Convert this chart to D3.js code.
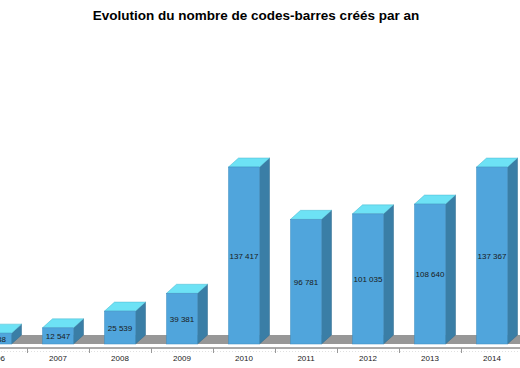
<html>
  <head>
    <script src="https://d3js.org/d3.v7.min.js"></script>
  </head>
  <style>
  body { margin: 0; background: #fff; }
  text { font-family: Arial, "Liberation Sans", sans-serif; }
  </style>
  <body>
    <svg id="chart" width="520" height="368"></svg>
    <script>
    // data
    const years = ["2006", "2007", "2008", "2009", "2010", "2011", "2012", "2013", "2014"];
    const values = [8438, 12547, 25539, 39381, 137417, 96781, 101035, 108640, 137367];
    const labels = ["8 438", "12 547", "25 539", "39 381", "137 417", "96 781", "101 035", "108 640", "137 367"];

    const svg = d3.select("#chart");
    const base = 344;
    const dx = 10, dy = 9; // 3d depth

    const x = d3.scaleBand().domain(years).range([-35, 523]).paddingInner(0.5).paddingOuter(0.25);
    const y = d3.scaleLinear().domain([0, 137417]).range([base, 167]);

    // title
    svg.append("text")
      .attr("x", 256).attr("y", 20)
      .attr("text-anchor", "middle")
      .attr("font-size", "13.5px").attr("font-weight", "bold")
      .text("Evolution du nombre de codes-barres créés par an");

    // floor
    const x0 = x.range()[0], x1 = x.range()[1];
    svg.append("polygon")
      .attr("points", [[x0, base], [x1, base], [x1 + dx, base - dy], [x0 + dx, base - dy]].join(" "))
      .attr("fill", "#979797");

    // axis
    const axisY = 348;
    svg.append("line").attr("x1", x0).attr("x2", x1).attr("y1", axisY).attr("y2", axisY)
      .attr("stroke", "#555").attr("stroke-width", 1);
    svg.append("line").attr("x1", x0).attr("x2", x1).attr("y1", axisY + 3.5).attr("y2", axisY + 3.5)
      .attr("stroke", "#ccc").attr("stroke-width", 0.6).attr("stroke-dasharray", "1,2");
    const step = x.step();
    d3.range(0, years.length + 1).forEach(function(i) {
      let tx = Math.round(x0 + i * step) + 0.5;
      svg.append("line").attr("x1", tx).attr("x2", tx).attr("y1", axisY).attr("y2", axisY + 5)
        .attr("stroke", "#999");
    });
    svg.selectAll("text.year").data(years).enter().append("text")
      .attr("class", "year")
      .attr("x", d => x(d) + x.bandwidth() / 2)
      .attr("y", 361)
      .attr("text-anchor", "middle")
      .attr("font-size", "8px").attr("fill", "#222")
      .text(d => d);

    // bars
    const bw = x.bandwidth();
    const g = svg.selectAll("g.bar").data(years).enter().append("g").attr("class", "bar");
    g.append("polygon")
      .attr("points", (d, i) => {
        let l = x(d), t = y(values[i]);
        return [[l + bw, base], [l + bw + dx, base - dy], [l + bw + dx, t - dy], [l + bw, t]].join(" ");
      })
      .attr("fill", "#3a7ea6").attr("stroke", "#2d6a8e").attr("stroke-width", 0.5);
    g.append("polygon")
      .attr("points", (d, i) => {
        let l = x(d), t = y(values[i]);
        return [[l, t], [l + bw, t], [l + bw + dx, t - dy], [l + dx, t - dy]].join(" ");
      })
      .attr("fill", "#6de2f5").attr("stroke", "#4bb6cf").attr("stroke-width", 0.5);
    g.append("rect")
      .attr("x", d => x(d))
      .attr("y", (d, i) => y(values[i]))
      .attr("width", bw)
      .attr("height", (d, i) => base - y(values[i]))
      .attr("fill", "#50a5dc").attr("stroke", "#3d8cc0").attr("stroke-width", 0.5);
    g.append("text")
      .attr("x", d => x(d) + bw / 2)
      .attr("y", (d, i) => (y(values[i]) + base) / 2 + 3)
      .attr("text-anchor", "middle")
      .attr("font-size", "8px").attr("fill", "#1a1a1a")
      .text((d, i) => labels[i]);
    </script>
  </body>
</html>
